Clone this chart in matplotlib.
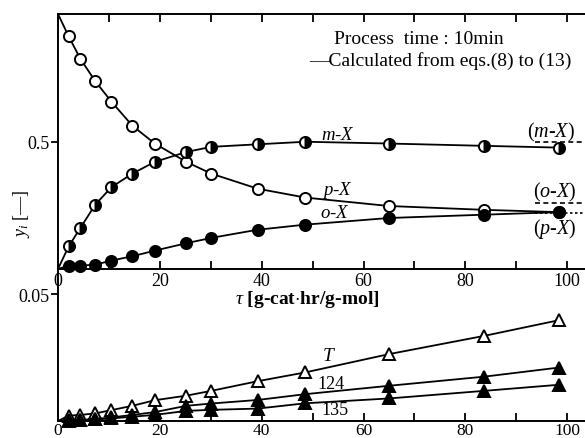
import matplotlib
matplotlib.use("Agg")
import matplotlib.pyplot as plt
from matplotlib.ticker import MultipleLocator, FixedLocator

plt.rcParams['font.family'] = ['Liberation Serif', 'DejaVu Serif']
plt.rcParams['mathtext.fontset'] = 'custom'
plt.rcParams['mathtext.it'] = 'Liberation Serif:italic'
plt.rcParams['mathtext.rm'] = 'Liberation Serif'

# ---- data ----
tau = [2.1, 4.4, 7.3, 10.5, 14.6, 19.0, 25.2, 30.1, 39.2, 48.6, 65.0, 83.7, 98.4]
pX = [0.912, 0.824, 0.737, 0.656, 0.562, 0.492, 0.420, 0.374, 0.315, 0.280, 0.247, 0.232, 0.223]
mX = [0.089, 0.161, 0.252, 0.321, 0.374, 0.420, 0.459, 0.479, 0.489, 0.499, 0.492, 0.483, 0.476]
oX = [0.013, 0.013, 0.017, 0.033, 0.050, 0.072, 0.101, 0.122, 0.154, 0.174, 0.200, 0.213, 0.223]
pX0, mX0, oX0 = 1.0, 0.0, 0.0
eq_m, eq_o, eq_p = 0.497, 0.257, 0.220

T = [0.0021, 0.0024, 0.0030, 0.0043, 0.0060, 0.0082, 0.0100, 0.0119, 0.0157, 0.0192, 0.0264, 0.0336, 0.0398]
tmb124 = [0.0002, 0.0004, 0.0008, 0.0014, 0.0024, 0.0035, 0.0060, 0.0069, 0.0083, 0.0106, 0.0139, 0.0175, 0.0211]
tmb135 = [0.0001, 0.0003, 0.0006, 0.0010, 0.0017, 0.0024, 0.0040, 0.0044, 0.0049, 0.0070, 0.0089, 0.0119, 0.0143]

xticks_major = [0, 20, 40, 60, 80, 100]

W, H = 585, 439
fig = plt.figure(figsize=(W / 100, H / 100), dpi=100)
left = 58 / W
ax2 = fig.add_axes([left, 1 - 422 / H, 1 - left, (422 - 270) / H])
ax1 = fig.add_axes([left, 1 - 270 / H, 1 - left, (270 - 15) / H])
ax1.patch.set_visible(False)
ax2.patch.set_visible(False)
ax1.set_zorder(3)
ax2.set_zorder(2)

xlim = (0, 103.5)
lw = 1.3
ms = 8
mew = 1.4
mk_every = list(range(1, len(tau) + 1))

# upper panel
ax1.plot([0] + tau, [pX0] + pX, '-', color='black', lw=lw, marker='o', ms=ms,
         mfc='white', mec='black', mew=mew, markevery=mk_every)
ax1.plot([0] + tau, [mX0] + mX, '-', color='black', lw=lw, marker='o', ms=ms,
         fillstyle='right', mfc='black', mfcalt='white', mec='black', mew=mew,
         markevery=mk_every)
ax1.plot([0] + tau, [oX0] + oX, '-', color='black', lw=lw, marker='o', ms=ms,
         mfc='black', mec='black', mew=mew, markevery=mk_every, clip_on=False)
ax1.plot([93.7, 104], [eq_m, eq_m], color='black', lw=1.2, ls=(0, (3, 2)))
ax1.plot([93.7, 104], [eq_o, eq_o], color='black', lw=1.2, ls=(0, (3, 2)))
ax1.plot([93.7, 104], [eq_p, eq_p], color='black', lw=1.2, ls=(0, (1.5, 1.5)))

ax1.set_xlim(*xlim)
ax1.set_ylim(0, 1.0)
ax1.spines['right'].set_visible(False)
for s in ['top', 'left', 'bottom']:
    ax1.spines[s].set_linewidth(1.4)
ax1.xaxis.set_major_locator(FixedLocator(xticks_major))
ax1.xaxis.set_minor_locator(MultipleLocator(10))
ax1.tick_params(axis='x', which='both', direction='in', top=True, bottom=True,
                length=6, width=1.3, labelsize=13, pad=2)
ax1.set_yticks([0.5])
ax1.set_yticklabels(['0.5'])
ax1.tick_params(axis='y', direction='out', length=5, width=1.3, labelsize=13, pad=1)

fig.text(338 / W, 1 - 135 / H, r'$m$-$X$', fontsize=13.5, ha='center', va='center')
fig.text(337 / W, 1 - 191 / H, r'$p$-$X$', fontsize=13.5, ha='center', va='center')
fig.text(335 / W, 1 - 213 / H, r'$o$-$X$', fontsize=13.5, ha='center', va='center')
fig.text(527 / W, 1 - 132 / H, r'$(m$-$X)$', fontsize=14.5, ha='left', va='center')
fig.text(533 / W, 1 - 192 / H, r'$(o$-$X)$', fontsize=14.5, ha='left', va='center')
fig.text(533 / W, 1 - 229 / H, r'$(p$-$X)$', fontsize=14.5, ha='left', va='center')

fig.text(419 / W, 1 - 39 / H, 'Process  time : 10min', fontsize=14,
         ha='center', va='center')
fig.text(440 / W, 1 - 61 / H, '—Calculated from eqs.(8) to (13)', fontsize=14,
         ha='center', va='center')

fig.text(22 / W, 1 - 214 / H, r'$y_i$ [—]', fontsize=13, rotation=90,
         ha='center', va='center')

# lower panel
tri = dict(color='black', lw=lw, ms=8.5, mec='black', mew=mew, clip_on=False,
           markevery=mk_every)
ax2.plot([0] + tau, [0] + T, marker='^', mfc='white', **tri)
ax2.plot([0] + tau, [0] + tmb124, marker='^', mfc='black', **tri)
ax2.plot([0] + tau, [0] + tmb135, marker='^', mfc='black', **tri)

ax2.set_xlim(*xlim)
ax2.set_ylim(0, 0.06)
ax2.spines['right'].set_visible(False)
ax2.spines['top'].set_visible(False)
for s in ['left', 'bottom']:
    ax2.spines[s].set_linewidth(1.4)
ax2.xaxis.set_major_locator(FixedLocator(xticks_major))
ax2.xaxis.set_minor_locator(MultipleLocator(10))
ax2.tick_params(axis='x', which='both', direction='in', length=6, width=1.3,
                labelsize=12.5, pad=0.5)
ax2.set_yticks([0.05])
ax2.set_yticklabels(['0.05'])
ax2.tick_params(axis='y', direction='out', length=5, width=1.3, labelsize=13, pad=1)

fig.text(329 / W, 1 - 357 / H, r'$T$', fontsize=14, ha='center', va='center')
fig.text(331 / W, 1 - 385 / H, '124', fontsize=13, ha='center', va='center')
fig.text(335 / W, 1 - 411 / H, '135', fontsize=13, ha='center', va='center')
fig.text(307 / W, 1 - 300 / H, r'$\tau$ [g-cat$\cdot$hr/g-mol]', fontsize=14,
         ha='center', va='center', fontweight='bold')

fig.savefig('out.png', dpi=100)
